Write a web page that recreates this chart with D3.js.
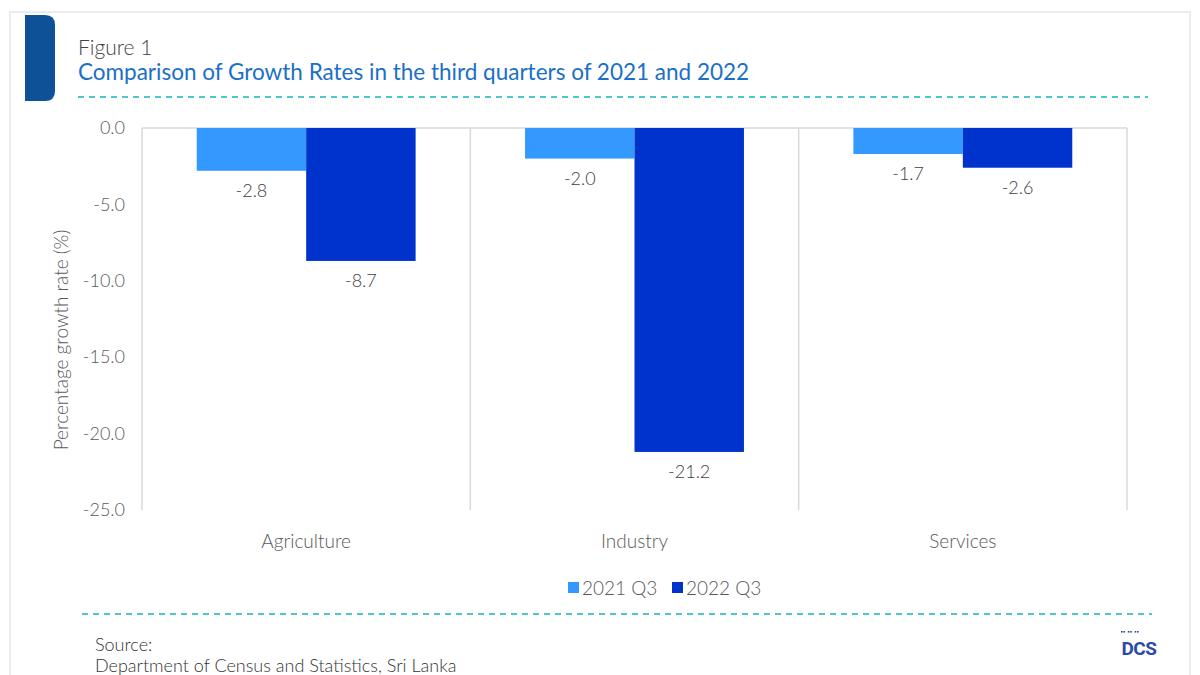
<!DOCTYPE html>
<html>
<head>
<meta charset="utf-8">
<script src="https://cdn.jsdelivr.net/npm/d3@7"></script>
<style>
  html, body { margin: 0; padding: 0; background: #fff; }
  svg { display: block; font-family: "Lato", "Open Sans", sans-serif; font-weight: 300; }
</style>
</head>
<body>
<svg id="chart" width="1200" height="675"></svg>
<script>
const categories = ["Agriculture", "Industry", "Services"];
const seriesNames = ["2021 Q3", "2022 Q3"];
const values2021 = [-2.8, -2.0, -1.7];
const values2022 = [-8.7, -21.2, -2.6];
const yTicks = [0, -5, -10, -15, -20, -25];
const colors = ["#3399ff", "#0033cc"];

(function () {
const svg = d3.select("#chart");
const fmt = v => d3.format(".1f")(v).replace("\u2212", "-");

// outer frame
svg.append("rect").attr("x", 10).attr("y", 12).attr("width", 1180).attr("height", 700)
  .attr("fill", "#fff").attr("stroke", "#ececec").attr("stroke-width", 2);

// blue tab
svg.append("path")
  .attr("d", "M25,15 H45 Q55,15 55,25 V91 Q55,101 45,101 H25 Z")
  .attr("fill", "#0f5196");

svg.append("text").attr("x", 78).attr("y", 55).attr("font-size", 21).attr("fill", "#444")
  .text("Figure 1");
svg.append("text").attr("x", 78).attr("y", 80).attr("font-size", 22.5).attr("fill", "#1a6fc9")
  .attr("font-weight", 400)
  .text("Comparison of Growth Rates in the third quarters of 2021 and 2022");

// dashed separators
svg.append("line").attr("x1", 78).attr("x2", 1148).attr("y1", 97).attr("y2", 97)
  .attr("stroke", "#19b3c0").attr("stroke-width", 1.3).attr("stroke-dasharray", "6,5");
svg.append("line").attr("x1", 82).attr("x2", 1152).attr("y1", 614).attr("y2", 614)
  .attr("stroke", "#19b3c0").attr("stroke-width", 1.3).attr("stroke-dasharray", "6,5");

// plot
const pLeft = 142, pRight = 1127, pTop = 128, pBottom = 510;
const x0 = d3.scaleBand().domain(categories).range([pLeft, pRight]).paddingInner(0).paddingOuter(0);
const x1 = d3.scaleBand().domain(seriesNames).range([0, x0.bandwidth()]).paddingOuter(0.5).paddingInner(0);
const y = d3.scaleLinear().domain([0, -25]).range([pTop, pBottom]);

// vertical gridlines at category boundaries
const bounds = categories.map(c => x0(c)).concat([pRight]);
svg.append("g").selectAll("line").data(bounds).join("line")
  .attr("x1", d => d).attr("x2", d => d).attr("y1", pTop).attr("y2", pBottom)
  .attr("stroke", "#d9d9d9").attr("stroke-width", 1.5);
// zero line
svg.append("line").attr("x1", pLeft).attr("x2", pRight).attr("y1", y(0)).attr("y2", y(0))
  .attr("stroke", "#d9d9d9").attr("stroke-width", 1.5);

// y axis labels
const yAxis = d3.axisLeft(y).tickValues(yTicks).tickFormat(fmt).tickSize(0).tickPadding(17);
const ga = svg.append("g").attr("transform", `translate(${pLeft},0)`).call(yAxis);
ga.select(".domain").remove();
ga.selectAll("text").attr("font-size", 18).attr("fill", "#595959")
  .attr("font-family", "Lato, 'Open Sans', sans-serif").attr("font-weight", 300);

svg.append("text").attr("transform", `translate(68,340) rotate(-90)`)
  .attr("text-anchor", "middle").attr("font-size", 19).attr("fill", "#595959")
  .text("Percentage growth rate (%)");

// bars
const data = categories.map((c, i) => ({ cat: c, vals: [values2021[i], values2022[i]] }));
const groups = svg.append("g").selectAll("g").data(data).join("g")
  .attr("transform", d => `translate(${x0(d.cat)},0)`);
groups.selectAll("rect").data(d => d.vals.map((v, j) => ({ s: seriesNames[j], v, j })))
  .join("rect")
  .attr("x", d => x1(d.s)).attr("width", x1.bandwidth())
  .attr("y", y(0)).attr("height", d => y(d.v) - y(0))
  .attr("fill", d => colors[d.j]);
groups.selectAll("text.val").data(d => d.vals.map((v, j) => ({ s: seriesNames[j], v, j })))
  .join("text").attr("class", "val")
  .attr("x", d => x1(d.s) + x1.bandwidth() / 2).attr("y", d => y(d.v) + 26)
  .attr("text-anchor", "middle").attr("font-size", 18).attr("fill", "#404040")
  .text(d => fmt(d.v));

// category labels
svg.append("g").selectAll("text").data(categories).join("text")
  .attr("x", d => x0(d) + x0.bandwidth() / 2).attr("y", 548)
  .attr("text-anchor", "middle").attr("font-size", 19).attr("fill", "#595959")
  .text(d => d);

// legend
const legend = svg.append("g");
const lx = [568, 672];
seriesNames.forEach((s, i) => {
  legend.append("rect").attr("x", lx[i]).attr("y", 582).attr("width", 11).attr("height", 11).attr("fill", colors[i]);
  legend.append("text").attr("x", lx[i] + 14).attr("y", 595).attr("font-size", 19).attr("fill", "#595959").text(s);
});

// source
svg.append("text").attr("x", 95).attr("y", 651).attr("font-size", 18).attr("fill", "#333").text("Source:");
svg.append("text").attr("x", 95).attr("y", 672).attr("font-size", 18).attr("fill", "#333").text("Department of Census and Statistics, Sri Lanka");

// DCS logo
svg.append("text").attr("x", 1139).attr("y", 655).attr("text-anchor", "middle")
  .attr("font-size", 19).attr("font-weight", "bold").attr("fill", "#2a4aa8").attr("font-family", "Roboto, sans-serif")
  .attr("letter-spacing", -0.5)
  .text("DCS");
svg.append("g").selectAll("rect").data([0, 1, 2, 3, 4, 5]).join("rect")
  .attr("x", d => 1121 + d * 2.4 + Math.floor(d / 2) * 2).attr("y", 631).attr("width", 1.6).attr("height", 1.6)
  .attr("fill", "#2a4aa8");
})();
</script>
</body>
</html>
